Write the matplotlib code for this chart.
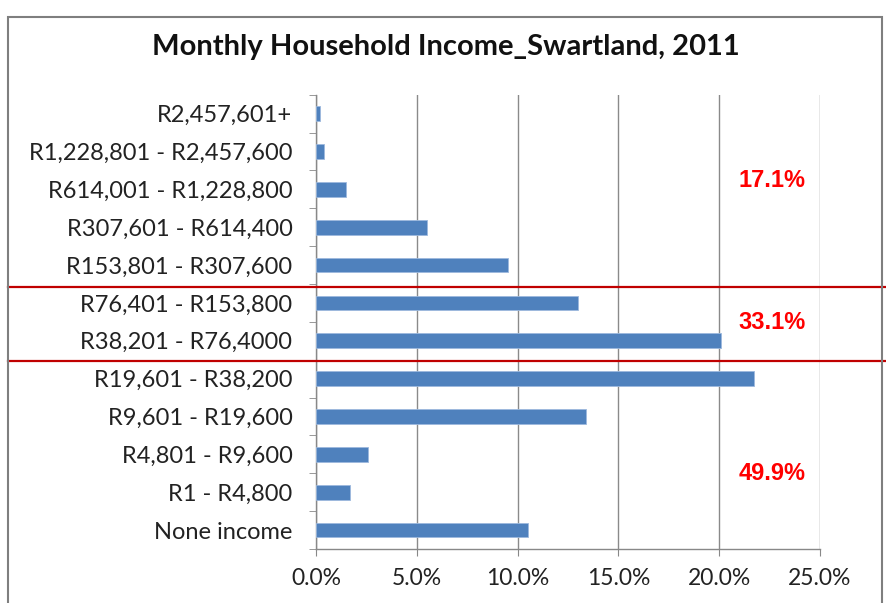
import matplotlib.pyplot as plt
from matplotlib.patches import Rectangle
from matplotlib.transforms import blended_transform_factory

plt.rcParams['font.family'] = ['Lato', 'DejaVu Sans']

# income bands, bottom to top as drawn
categories = ["None income", "R1 - R4,800", "R4,801 - R9,600", "R9,601 - R19,600",
              "R19,601 - R38,200", "R38,201 - R76,4000", "R76,401 - R153,800",
              "R153,801 - R307,600", "R307,601 - R614,400", "R614,001 - R1,228,800",
              "R1,228,801 - R2,457,600", "R2,457,601+"]
shares = [10.5, 1.7, 2.6, 13.4, 21.7, 20.1, 13.0, 9.5, 5.5, 1.5, 0.4, 0.2]

group_labels = ["49.9%", "33.1%", "17.1%"]
group_y = [1.5, 5.47, 9.22]
group_breaks = [4.47, 6.42]

xticks = [0, 5, 10, 15, 20, 25]
xtick_labels = ["0.0%", "5.0%", "10.0%", "15.0%", "20.0%", "25.0%"]

fig = plt.figure(figsize=(8.87, 6.03), dpi=100)
ax = fig.add_axes([0.3563, 0.0896, 0.9245 - 0.3563, 0.843 - 0.0896])

ypos = list(range(len(categories)))
ax.barh(ypos, shares, height=0.39, color='#4F81BD', edgecolor='#9DB9DD', linewidth=0.6, zorder=3)

ax.set_xlim(0, 25)
ax.set_ylim(-0.5, len(categories) - 0.5)
ax.set_xticks(xticks)
ax.set_xticklabels(xtick_labels, fontsize=16.5, color='#222222')
ax.set_yticks(ypos)
ax.set_yticklabels(categories, fontsize=17, color='#222222')
ax.set_yticks([i - 0.5 for i in range(len(categories) + 1)], minor=True)

ax.tick_params(axis='y', which='major', length=0, pad=17)
ax.tick_params(axis='y', which='minor', length=5, color='#888888', direction='out')
ax.tick_params(axis='x', length=5, color='#888888', direction='out', pad=9)

ax.grid(axis='x', color='#8a8a8a', linewidth=1, zorder=0)
for side in ['top', 'right']:
    ax.spines[side].set_visible(False)
for side in ['left', 'bottom']:
    ax.spines[side].set_color('#888888')
    ax.spines[side].set_linewidth(1)

# red separators across the whole chart
trans = blended_transform_factory(fig.transFigure, ax.transData)
for yb in group_breaks:
    ax.plot([0.009, 1.0], [yb, yb], color='#C00000', linewidth=1.6, transform=trans, clip_on=False, zorder=5)

for lab, yl in zip(group_labels, group_y):
    ax.text(22.6, yl, lab, color='#FF0000', fontsize=17, fontweight='bold',
            ha='center', va='center', family=['Liberation Sans Narrow', 'Liberation Sans'])

fig.text(0.503, 0.922, "Monthly Household Income_Swartland, 2011", fontsize=21,
         fontweight='bold', ha='center', va='center', color='#111111')

# chart border (bottom edge runs off the image)
fig.patches.append(Rectangle((0.009, -0.05), 0.985, 1.022, transform=fig.transFigure,
                             fill=False, edgecolor='#7f7f7f', linewidth=1.5))

fig.savefig('out.png', dpi=100)
